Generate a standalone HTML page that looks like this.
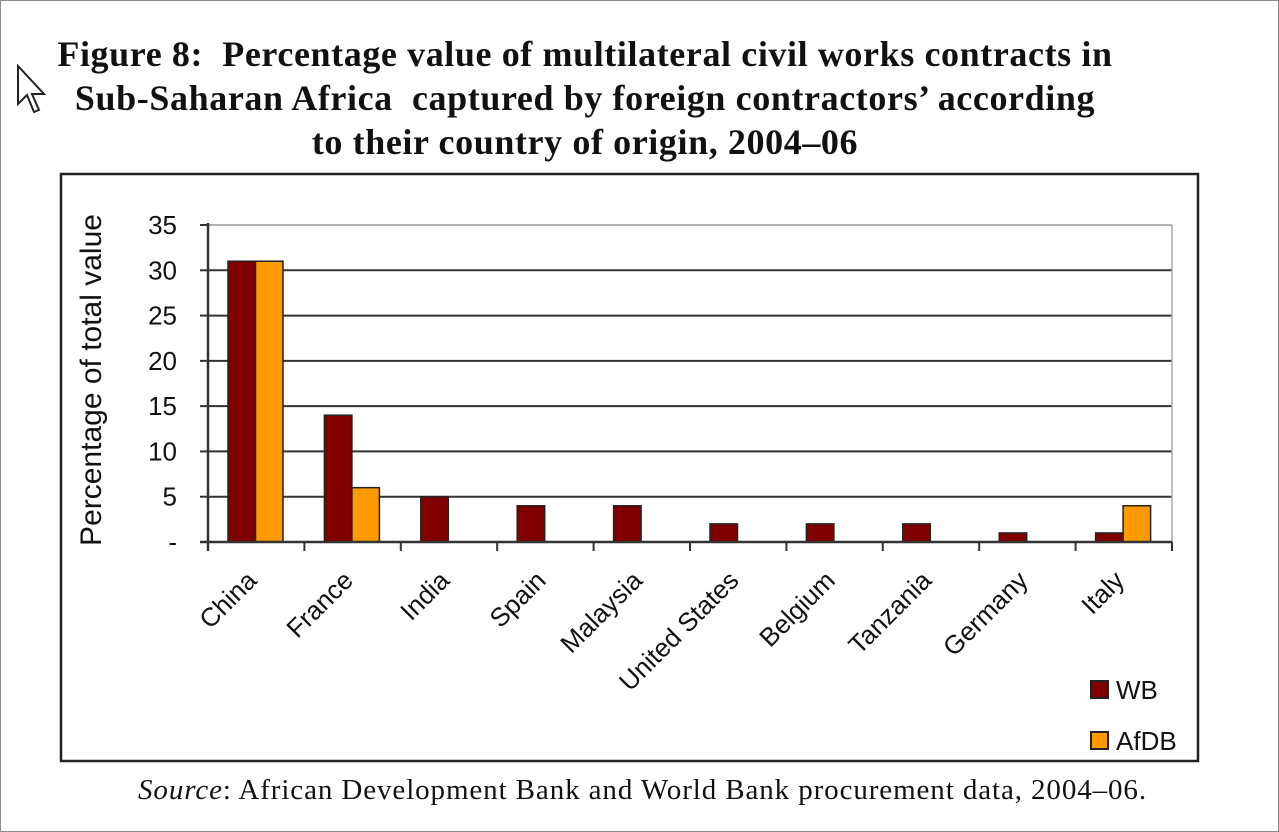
<!DOCTYPE html>
<html><head><meta charset="utf-8"><style>
html,body{margin:0;padding:0;background:#fff}
body{width:1279px;height:832px;position:relative;overflow:hidden}
.frame{position:absolute;left:0;top:0;width:1277px;height:830px;border:1px solid #8a8a8a}
.title{position:absolute;left:0;width:1170px;text-align:center;font:bold 36px "Liberation Serif",serif;letter-spacing:0.6px;color:#111;line-height:44px;top:32px;white-space:nowrap}
.src{position:absolute;left:0;width:1285px;text-align:center;top:774px;font:29px "Liberation Serif",serif;letter-spacing:0.9px;color:#111;white-space:nowrap}
</style></head><body>
<div class="frame"></div>
<svg style="position:absolute;left:16px;top:64px" width="34" height="52"><path d="M2 2 L2 40 L11 31 L18 48 L23 46 L16 30 L28 30 Z" fill="#fff" stroke="#222" stroke-width="2"/></svg>
<div class="title">Figure 8:&nbsp; Percentage value of multilateral civil works contracts in<br>Sub-Saharan Africa&nbsp; captured by foreign contractors’ according<br>to their country of origin, 2004–06</div>
<svg id="chart" style="position:absolute;left:0;top:0" width="1279" height="832"></svg>
<div class="src"><i>Source</i>: African Development Bank and World Bank procurement data, 2004–06.</div>
<script>
const categories=["China","France","India","Spain","Malaysia","United States","Belgium","Tanzania","Germany","Italy"];
const wbValues=[31,14,5,4,4,2,2,2,1,1];
const afdbValues=[31,6,0,0,0,0,0,0,0,4];
const yTicks=[0,5,10,15,20,25,30,35];
const yTickLabels=["-","5","10","15","20","25","30","35"];
const seriesNames=["WB","AfDB"];
const colors=["#800000","#ff9900"];
const svg=document.getElementById('chart');
const NS='http://www.w3.org/2000/svg';
const L=208,R=1172,T=225,B=542,yMax=35;
const cw=(R-L)/categories.length;
const y=v=>B-(v/yMax)*(B-T);
const xc=i=>L+i*cw;
const FF='Liberation Sans,sans-serif';
function mk(tag,attrs,parent){const e=document.createElementNS(NS,tag);for(const k in attrs)e.setAttribute(k,attrs[k]);(parent||svg).appendChild(e);return e;}
let box=mk('rect',{x:61,y:174,width:1137,height:587,fill:'#fff',stroke:'#222','stroke-width':2.5});


yTicks.forEach((t,i)=>{
  if(t>0){let g=mk('line',{x1:L,x2:R,y1:y(t),y2:y(t),stroke:t===yMax?'#999':'#333','stroke-width':t===yMax?1.5:2});
  
  }
  let tk=mk('line',{x1:L-8,x2:L,y1:y(t),y2:y(t),stroke:'#333','stroke-width':2});
  
  
  let tx=mk('text',{x:177,y:y(t)+9,'text-anchor':'end','font-family':FF,'font-size':26,fill:'#111'});
  tx.textContent=yTickLabels[i];
  
  
});
let rb=mk('line',{x1:R,x2:R,y1:T,y2:B,stroke:'#aaa','stroke-width':1.5});


categories.forEach((c,i)=>{
  const x0=xc(i)+20, bw=27.5;
  [wbValues[i],afdbValues[i]].forEach((v,s)=>{
    if(v<=0)return;
    let r=mk('rect',{x:x0+s*bw,y:y(v),width:bw,height:B-y(v),fill:colors[s],stroke:'#222','stroke-width':1.5});
    
    
  });
  let lb=mk('text',{x:0,y:0,'text-anchor':'end','font-family':FF,'font-size':26,fill:'#111',transform:`translate(${xc(i)+cw/2+2},${B+40}) rotate(-45)`});
  lb.textContent=c;
  
  
});
for(let i=0;i<=categories.length;i++){
  let tk=mk('line',{x1:xc(i),x2:xc(i),y1:B,y2:B+9,stroke:'#333','stroke-width':2});
  
  
}
let ax=mk('line',{x1:L,x2:L,y1:T-2,y2:B+9,stroke:'#333','stroke-width':2.5});


let xa=mk('line',{x1:L-8,x2:R,y1:B,y2:B,stroke:'#333','stroke-width':2.5});


let yt=mk('text',{x:0,y:0,'text-anchor':'middle','font-family':FF,'font-size':30,fill:'#111',transform:'translate(101,380) rotate(-90)'});
yt.textContent='Percentage of total value';


seriesNames.forEach((n,s)=>{
  const ly=681+s*51;
  let sq=mk('rect',{x:1091,y:ly,width:17,height:17,fill:colors[s],stroke:'#222','stroke-width':2});
  
  
  let t=mk('text',{x:1116,y:ly+18,'font-family':FF,'font-size':26,fill:'#111'});
  t.textContent=n;
  
  
});
</script>
</body></html>
